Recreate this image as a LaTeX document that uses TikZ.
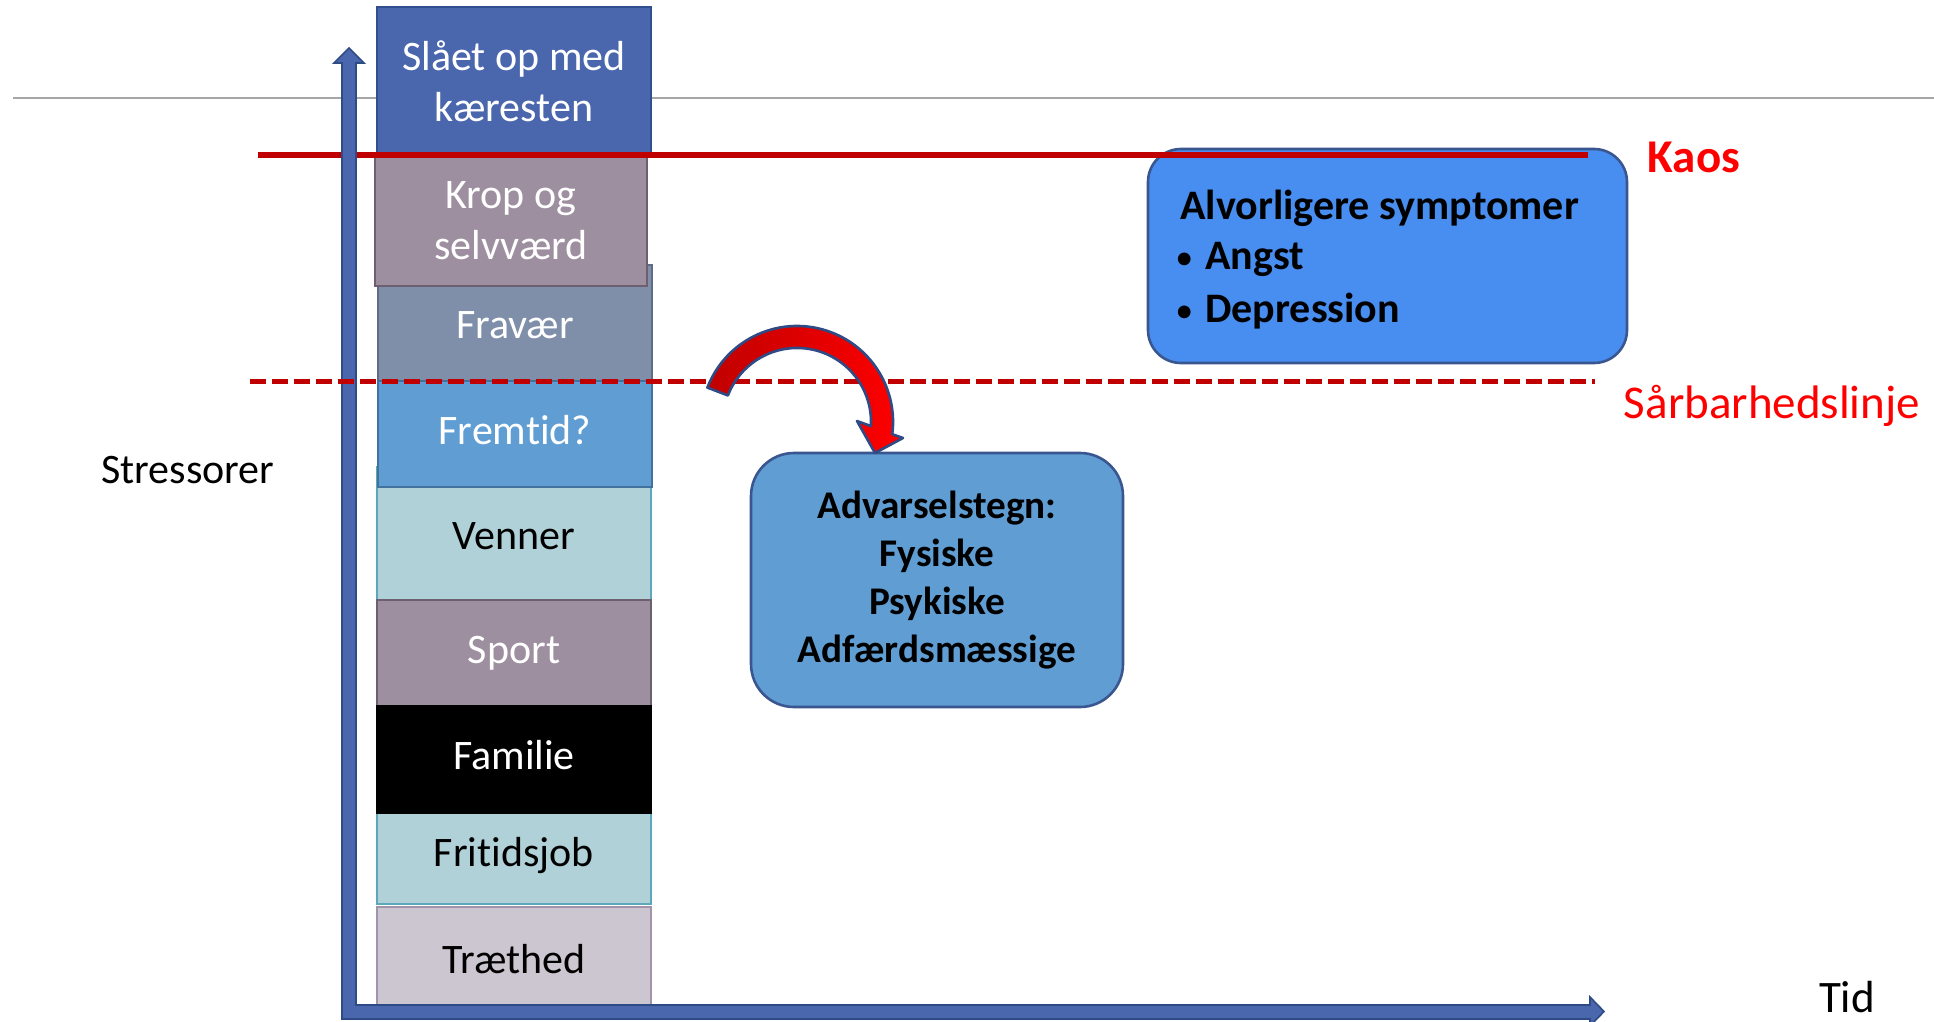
\documentclass[tikz,border=0pt]{standalone}
\usepackage{fontspec}
\setmainfont{Carlito}[Ligatures=NoCommon]
\definecolor{axisblue}{HTML}{4A66AC}
\definecolor{axisedge}{HTML}{2F4B86}
\definecolor{darkred}{HTML}{C00000}
\definecolor{rulegray}{HTML}{A6A6A6}
\definecolor{boxnavy}{HTML}{4A67AE}
\definecolor{edgenavy}{HTML}{2F4F8F}
\definecolor{mauve}{HTML}{9E8FA0}
\definecolor{edgemauve}{HTML}{6D5F70}
\definecolor{slate}{HTML}{7F8FAA}
\definecolor{edgeslate}{HTML}{5F6C85}
\definecolor{midblue}{HTML}{5F9DD3}
\definecolor{edgemid}{HTML}{41719C}
\definecolor{paleteal}{HTML}{B0D1D8}
\definecolor{edgeteal}{HTML}{5DA8B8}
\definecolor{lilac}{HTML}{CCC6D0}
\definecolor{edgelilac}{HTML}{A093AA}
\definecolor{brightblue}{HTML}{488EF0}
\definecolor{boxedge}{HTML}{3A5690}
\definecolor{pinkish}{HTML}{F2B6BE}
\newcommand{\symbullet}{\llap{{\mdseries\fontsize{18}{18}\selectfont •}\hspace{6pt}}}
\begin{document}
\begin{tikzpicture}[x=0.5pt,y=-0.5pt,
  stackbox/.style={draw, line width=1pt, minimum width=137pt, inner sep=0pt,
    align=center, text=white, font=\fontsize{21}{25.5}\selectfont},
  oneline/.style={text height=#1, text depth=4.2pt},
  roundbox/.style={draw=boxedge, line width=1.3pt, inner sep=0pt},
  plainlabel/.style={inner sep=0pt, anchor=base},
  symlabel/.style={inner sep=0pt, anchor=base west, font=\bfseries\fontsize{21}{25.5}\selectfont}]
\useasboundingbox (0,0) rectangle (1934,1022);

% thin grey rule across the top
\draw[rulegray, line width=1pt] (13,98) -- (1934,98);

% stack of stressors (overlapping boxes drawn lower layer first)
\node[stackbox, oneline=19.4pt, fill=slate, draw=edgeslate, minimum height=58pt] (fravaer) at (515,323) {Fravær};
\node[stackbox, fill=mauve, draw=edgemauve, minimum width=136pt, minimum height=65.5pt] (krop) at (511,220.5) {Krop og\\selvværd};
\node[stackbox, fill=boxnavy, draw=edgenavy, minimum height=74pt] (kaereste) at (514,81) {Slået op med\\kæresten};
\node[stackbox, oneline=20.4pt, fill=paleteal, draw=edgeteal, text=black, minimum height=66.5pt] (venner) at (514,533.5) {Venner};
\node[stackbox, oneline=14.9pt, fill=midblue, draw=edgemid, minimum height=53pt] (fremtid) at (515,434) {Fremtid?};
\node[stackbox, oneline=14.4pt, fill=mauve, draw=edgemauve, minimum height=53pt] (sport) at (514,653) {Sport};
\node[stackbox, oneline=18.9pt, fill=paleteal, draw=edgeteal, text=black, minimum height=52pt] (fritid) at (514,852) {Fritidsjob};
\node[stackbox, oneline=13.9pt, fill=black, draw=black, minimum height=53.5pt] (familie) at (514,759.5) {Familie};
\node[stackbox, oneline=19.9pt, fill=lilac, draw=edgelilac, text=black, minimum height=50.5pt] (traethed) at (514,957.5) {Træthed};

% symptom boxes
\node[roundbox, fill=brightblue, rounded corners=16.5pt, minimum width=239.5pt, minimum height=107pt] (symptomer) at (1387.5,256) {};
\node[roundbox, fill=midblue, rounded corners=21.5pt, minimum width=186pt, minimum height=127pt,
  align=center, font=\bfseries\fontsize{19.6}{24}\selectfont] (advarsel) at (937,580)
  {Advarselstegn:\\Fysiske\\Psykiske\\Adfærdsmæssige};

% chaos line
\draw[darkred, line width=3pt] (258,155) -- (1588,155);

% axes
\path[fill=axisblue, draw=axisedge, line width=0.8pt]
  (342,1019) -- (342,63) -- (334,63) -- (349,48) -- (364,63) -- (356,63)
  -- (356,1005) -- (1590,1005) -- (1590,997) -- (1604,1011.5) -- (1590,1026)
  -- (1590,1019) -- cycle;

% vulnerability line
\draw[darkred, line width=2.5pt, dash pattern=on 8pt off 3pt] (250,381.5) -- (1595,381.5);

% curved arrow over the vulnerability line
\path[draw=axisedge, line width=1.3pt, line join=round,
      left color=darkred, middle color=pinkish, right color=red]
  (707.4,387.6) arc[start angle=201, end angle=367.3, radius=96]
  -- (903,438) -- (875,453) -- (857,421) -- (870.9,426.1)
  arc[start angle=363.2, end angle=201, radius=74] -- cycle;

% symptom text
\node[symlabel] (alvorlig) at (1180,220) {Alvorligere symptomer};
\node[symlabel] (angst) at (1205,270) {\symbullet Angst};
\node[symlabel] (depression) at (1205,322) {\symbullet Depression};

% axis and line labels
\node[plainlabel, font=\fontsize{21}{25.5}\selectfont] (stress) at (188,483) {Stressorer};
\node[plainlabel, font=\fontsize{22.5}{27}\selectfont] (tid) at (1847,1012) {Tid};
\node[plainlabel, text=red, font=\bfseries\fontsize{23.5}{28}\selectfont] (kaos) at (1694,172) {Kaos};
\node[plainlabel, text=red, font=\fontsize{23.5}{28}\selectfont] (saarbar) at (1772,418) {Sårbarhedslinje};
\end{tikzpicture}
\end{document}
